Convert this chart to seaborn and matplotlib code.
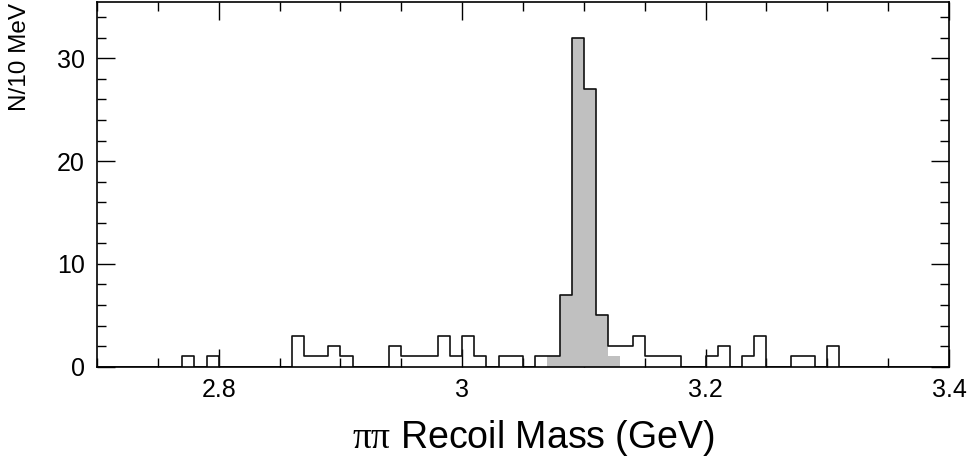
import numpy as np
import pandas as pd
import matplotlib
matplotlib.use("Agg")
import matplotlib.pyplot as plt
import seaborn as sns
from matplotlib.ticker import MultipleLocator

# pi+pi- recoil mass spectrum, 10 MeV bins from 2.70 to 3.40 GeV
mass_lo = 2.70
bin_width = 0.01
all_counts = [
    0, 0, 0, 0, 0, 0, 0, 1, 0, 1,      # 2.70 - 2.80
    0, 0, 0, 0, 0, 0, 3, 1, 1, 2,      # 2.80 - 2.90
    1, 0, 0, 0, 2, 1, 1, 1, 3, 1,      # 2.90 - 3.00
    3, 1, 0, 1, 1, 0, 1, 1, 7, 32,     # 3.00 - 3.10
    27, 5, 2, 2, 3, 1, 1, 1, 0, 0,     # 3.10 - 3.20
    1, 2, 0, 1, 3, 0, 0, 1, 1, 0,      # 3.20 - 3.30
    2, 0, 0, 0, 0, 0, 0, 0, 0, 0,      # 3.30 - 3.40
]
# events in the J/psi signal region (shaded)
signal_lo = 3.07
signal_counts = [1, 7, 32, 27, 5, 1]

x_ticks = [2.8, 3.0, 3.2, 3.4]
x_tick_labels = ["2.8", "3", "3.2", "3.4"]
y_ticks = [0, 10, 20, 30]
y_tick_labels = ["0", "10", "20", "30"]

all_edges = [round(mass_lo + bin_width * i, 3) for i in range(len(all_counts) + 1)]
all_df = pd.DataFrame({"mass": np.array(all_edges[:-1]) + bin_width / 2,
                       "n": all_counts})
sig_edges = [round(signal_lo + bin_width * i, 3) for i in range(len(signal_counts) + 1)]
sig_df = pd.DataFrame({"mass": np.array(sig_edges[:-1]) + bin_width / 2,
                       "n": signal_counts})

sns.set_theme(style="ticks")
plt.rcParams["font.family"] = ["Liberation Sans", "DejaVu Sans"]
plt.rcParams["mathtext.fontset"] = "custom"
plt.rcParams["mathtext.rm"] = "Liberation Serif"
plt.rcParams["mathtext.it"] = "Liberation Serif:italic"

fig = plt.figure(figsize=(9.71, 4.59), dpi=100)
ax = fig.add_axes([97 / 971, 92.3 / 459, 852 / 971, 365 / 459])

sns.histplot(data=sig_df, x="mass", weights="n", bins=sig_edges,
             element="step", fill=True, color="#c0c0c0", alpha=1.0,
             linewidth=0, ax=ax, zorder=1)
sns.histplot(data=all_df, x="mass", weights="n", bins=all_edges,
             element="step", fill=False, color="#111111", linewidth=1.2,
             ax=ax, zorder=2)

ax.set_xlim(2.70, 3.40)
ax.set_ylim(0, 35.5)
ax.set_xlabel("")
ax.set_ylabel("")

ax.set_xticks(x_ticks)
ax.set_xticklabels(x_tick_labels)
ax.set_yticks(y_ticks)
ax.set_yticklabels(y_tick_labels)
ax.xaxis.set_minor_locator(MultipleLocator(0.05))
ax.yaxis.set_minor_locator(MultipleLocator(2))
ax.tick_params(which="both", direction="in", top=True, right=True,
               width=1.0, color="black", labelsize=18, labelcolor="black")
ax.tick_params(which="major", length=13)
ax.tick_params(which="minor", length=6.5)
ax.tick_params(axis="x", which="major", pad=8)
ax.tick_params(axis="y", which="major", pad=9)

for side in ax.spines.values():
    side.set_visible(True)
    side.set_color("black")
    side.set_linewidth(1.2)
    side.set_zorder(5)

fig.text(20 / 971, 1 - 3 / 459, "N/10 MeV", rotation=90, ha="center",
         va="top", fontsize=17.5, color="black")
fig.text(533 / 971, 1 - 438 / 459, r"$\mathrm{\pi\pi}$ Recoil Mass (GeV)",
         ha="center", va="center", fontsize=27, color="black")

fig.savefig("out.png", dpi=100)
